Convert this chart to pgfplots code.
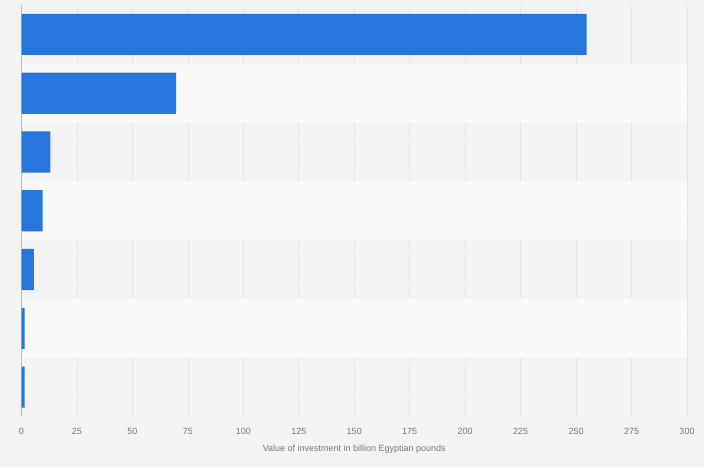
\documentclass[border=0pt]{standalone}
\usepackage{pgfplots}
\pgfplotsset{compat=1.18}
\usepackage{fontspec}
\setmainfont{Liberation Sans}
\definecolor{barblue}{RGB}{39,118,221}
\definecolor{bgdark}{RGB}{243,243,243}
\definecolor{bglight}{RGB}{249,249,249}
\definecolor{gridgray}{RGB}{222,222,222}
\definecolor{textgray}{RGB}{120,120,120}
\begin{document}
\begin{tikzpicture}
\fill[bgdark] (0,0) rectangle (704pt,467pt);
\useasboundingbox (0,0) rectangle (704pt,467pt);
\begin{axis}[
    at={(21.5pt,50.5pt)}, anchor=south west,
    scale only axis,
    width=665.5pt, height=411.5pt,
    xbar, bar width=0.7,
    xmin=0, xmax=300,
    ymin=0.5, ymax=7.5, y dir=reverse,
    xtick={0,25,...,300},
    ytick=\empty,
    axis line style={draw=none},
    major tick length=0pt,
    xmajorgrids,
    grid style={gridgray, densely dotted, line width=0.7pt},
    tick label style={font=\fontsize{9}{11}\selectfont, text=textgray},
    xticklabel style={yshift=-8pt},
    xlabel={Value of investment in billion Egyptian pounds},
    xlabel style={font=\fontsize{9}{11}\selectfont, text=textgray, yshift=-4pt},
    /pgf/number format/assume math mode=true,
]
% alternating row bands
\fill[bglight] (axis cs:0,1.5) rectangle (axis cs:300,2.5);
\fill[bglight] (axis cs:0,3.5) rectangle (axis cs:300,4.5);
\fill[bglight] (axis cs:0,5.5) rectangle (axis cs:300,6.5);
\addplot[fill=barblue, draw=none] coordinates {
    (254.8,1) (69.7,2) (13.0,3) (9.5,4) (5.6,5) (1.4,6) (1.4,7)};
\draw[gray!90!black, line width=0.9pt] (axis cs:0,7.5) -- (axis cs:0,0.4);
\end{axis}
\end{tikzpicture}
\end{document}
